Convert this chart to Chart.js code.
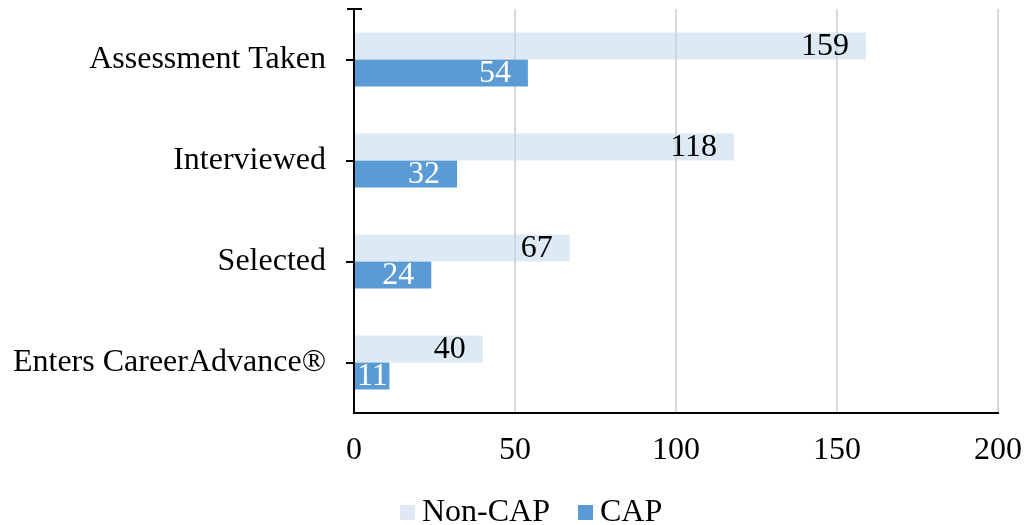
<!DOCTYPE html>
<html>
<head>
<meta charset="utf-8">
<script src="https://cdn.jsdelivr.net/npm/chart.js@4.4.1/dist/chart.umd.min.js"></script>
<style>
  html, body { margin: 0; padding: 0; background: #fff; }
  #wrap { width: 1024px; height: 525px; }
</style>
</head>
<body>
<div id="wrap"><canvas id="chart"></canvas></div>
<script>
// Data
const categories = ['Assessment Taken', 'Interviewed', 'Selected', 'Enters CareerAdvance®'];
const nonCapValues = [159, 118, 67, 40];
const capValues = [54, 32, 24, 11];
const xTicks = [0, 50, 100, 150, 200];
const seriesNames = ['Non-CAP', 'CAP'];

const serif = "'Liberation Serif', 'Times New Roman', serif";
const fontSize = 32;

// Value labels at the inside end of each bar, axis top tick and the legend
const extras = {
    id: 'extras',
    afterDatasetsDraw(chart) {
        const ctx = chart.ctx;
        const base = chart.scales.x.getPixelForValue(0);
        ctx.save();
        ctx.font = fontSize + 'px ' + serif;
        ctx.textAlign = 'right';
        ctx.textBaseline = 'middle';
        chart.data.datasets.forEach((ds, i) => {
            const meta = chart.getDatasetMeta(i);
            meta.data.forEach((el, j) => {
                const txt = String(ds.data[j]);
                const w = ctx.measureText(txt).width;
                const xr = Math.max(el.x - 17, base + w + 3);
                ctx.fillStyle = ds.labelColor;
                ctx.fillText(txt, xr, el.y + 1);
            });
        });
        const a = chart.chartArea;
        ctx.strokeStyle = '#000';
        ctx.lineWidth = 2;
        ctx.beginPath();
        ctx.moveTo(a.left - 7, a.top);
        ctx.lineTo(a.left + 8, a.top);
        ctx.stroke();

        // legend below the axis
        ctx.textAlign = 'left';
        const legendY = 512;
        let lx = 400;
        chart.data.datasets.forEach(ds => {
            ctx.fillStyle = ds.legendColor;
            ctx.fillRect(lx, legendY - 7, 15, 15);
            ctx.fillStyle = '#000';
            ctx.fillText(ds.label, lx + 22, legendY + 1);
            lx += 22 + ctx.measureText(ds.label).width + 28;
        });
        ctx.restore();
    }
};

const ctx = document.getElementById('chart').getContext('2d');
new Chart(ctx, {
    type: 'bar',
    data: {
        labels: categories,
        datasets: [{
            label: seriesNames[0],
            data: nonCapValues,
            backgroundColor: 'rgba(189,214,238,0.52)',
            legendColor: '#dee9f5',
            labelColor: '#000',
            barPercentage: 1,
            categoryPercentage: 0.535
        }, {
            label: seriesNames[1],
            data: capValues,
            backgroundColor: '#5b9bd5',
            legendColor: '#5b9bd5',
            labelColor: '#fff',
            barPercentage: 1,
            categoryPercentage: 0.535
        }]
    },
    options: {
        indexAxis: 'y',
        responsive: true,
        maintainAspectRatio: false,
        animation: false,
        layout: { padding: { top: 9, right: 26, left: 0, bottom: 0 } },
        scales: {
            x: {
                min: 0,
                max: 200,
                afterBuildTicks: s => { s.ticks = xTicks.map(v => ({ value: v })); },
                afterFit: s => { s.height = 112; s.paddingLeft = 0; s.paddingRight = 0; },
                grid: { color: '#d9d9d9', lineWidth: 2, drawTicks: false },
                border: { color: '#000', width: 2 },
                ticks: { color: '#000', font: { family: serif, size: fontSize }, padding: 18 }
            },
            y: {
                afterFit: s => { s.width = 354; s.paddingTop = 0; s.paddingBottom = 0; },
                grid: { display: true, drawOnChartArea: false, offset: false, color: '#000', lineWidth: 2, tickLength: 8 },
                border: { color: '#000', width: 2 },
                ticks: { color: '#000', font: { family: serif, size: fontSize }, padding: 20 }
            }
        },
        plugins: {
            legend: { display: false },
            tooltip: { enabled: false }
        }
    },
    plugins: [extras]
});
</script>
</body>
</html>
